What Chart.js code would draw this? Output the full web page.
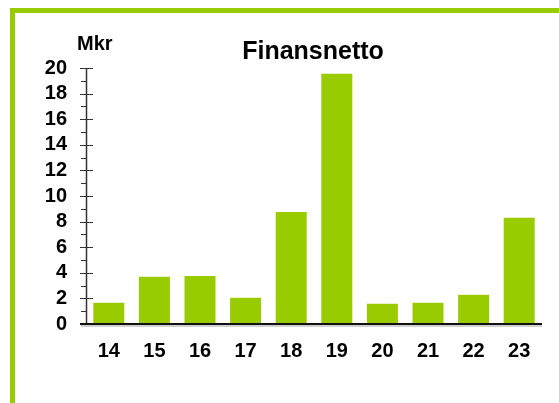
<!DOCTYPE html>
<html>
<head>
<meta charset="utf-8">
<script src="https://cdn.jsdelivr.net/npm/chart.js@4/dist/chart.umd.min.js"></script>
<style>
  html, body { margin: 0; padding: 0; background: #fff; }
  #wrap { position: relative; width: 559px; height: 403px; overflow: hidden; }
  #frame {
    position: absolute; left: 10px; top: 8px; right: 0; bottom: 0;
    border-left: 5px solid #99cc00; border-top: 5px solid #99cc00;
  }
  canvas { position: absolute; left: 0; top: 0; }
</style>
</head>
<body>
<div id="wrap">
  <div id="frame"></div>
  <canvas id="finansChart" width="559" height="403"></canvas>
</div>
<script>
// År (2014-2023) och finansnetto i Mkr
const years = ['14', '15', '16', '17', '18', '19', '20', '21', '22', '23'];
const finansnetto = [1.66, 3.7, 3.75, 2.05, 8.75, 19.55, 1.58, 1.66, 2.28, 8.3];
const chartTitle = 'Finansnetto';
const unitLabel = 'Mkr';
const yMin = 0;
const yMax = 20;
const yStep = 2;

const FONT = "'Liberation Sans', Arial, sans-serif";

// ritar axellinjer, skalstreck och texterna
const axisPlugin = {
    id: 'axisPlugin',
    afterDraw(chart) {
        const ctx = chart.ctx;
        const yScale = chart.scales.y;
        const area = chart.chartArea;
        const left = area.left;
        const y0 = Math.round(yScale.getPixelForValue(yMin));
        const yTop = Math.round(yScale.getPixelForValue(yMax));

        ctx.save();
        // y-axel
        ctx.strokeStyle = '#333';
        ctx.lineWidth = 1.5;
        ctx.beginPath();
        ctx.moveTo(left + 0.5, yTop);
        ctx.lineTo(left + 0.5, y0);
        ctx.stroke();

        // skalstreck, långa vid jämna värden, korta däremellan
        ctx.lineWidth = 1;
        for (let v = yMin; v <= yMax; v++) {
            const py = Math.round(yScale.getPixelForValue(v)) + 0.5;
            ctx.beginPath();
            if (v % yStep === 0) {
                ctx.moveTo(left - 6, py);
                ctx.lineTo(left + 7, py);
            } else {
                ctx.moveTo(left - 5, py);
                ctx.lineTo(left, py);
            }
            ctx.stroke();
        }

        // x-axel med svag skugga
        ctx.strokeStyle = '#d0d0d0';
        ctx.lineWidth = 2;
        ctx.beginPath();
        ctx.moveTo(left - 5, y0 + 2);
        ctx.lineTo(area.right, y0 + 2);
        ctx.stroke();
        ctx.strokeStyle = '#111';
        ctx.lineWidth = 2;
        ctx.beginPath();
        ctx.moveTo(left - 6, y0);
        ctx.lineTo(area.right, y0);
        ctx.stroke();

        // texter
        ctx.fillStyle = '#000';
        ctx.textBaseline = 'alphabetic';
        ctx.textAlign = 'center';
        ctx.font = 'bold 25px ' + FONT;
        ctx.fillText(chartTitle, 313, 59);
        ctx.textAlign = 'left';
        ctx.font = 'bold 20px ' + FONT;
        ctx.fillText(unitLabel, 77, 50);
        ctx.restore();
    }
};

const ctx = document.getElementById('finansChart').getContext('2d');
new Chart(ctx, {
    type: 'bar',
    data: {
        labels: years,
        datasets: [{
            data: finansnetto,
            backgroundColor: '#99cc00',
            barPercentage: 0.68,
            categoryPercentage: 1
        }]
    },
    options: {
        responsive: false,
        animation: false,
        layout: {
            padding: { left: 0, right: 17, top: 68, bottom: 39 }
        },
        plugins: {
            legend: { display: false },
            tooltip: { enabled: false },
            title: { display: false }
        },
        scales: {
            x: {
                grid: { display: false, drawTicks: false },
                border: { display: false },
                ticks: {
                    color: '#000',
                    padding: 15,
                    autoSkip: false,
                    maxRotation: 0,
                    font: { family: FONT, size: 20, weight: 'bold' }
                },
                afterFit: function(scale) { scale.height = 40; }
            },
            y: {
                min: yMin,
                max: yMax,
                grid: { display: false, drawTicks: false },
                border: { display: false },
                ticks: {
                    stepSize: yStep,
                    autoSkip: false,
                    color: '#000',
                    padding: 19,
                    font: { family: FONT, size: 20, weight: 'bold' }
                },
                afterFit: function(scale) { scale.width = 86; }
            }
        }
    },
    plugins: [axisPlugin]
});
</script>
</body>
</html>
